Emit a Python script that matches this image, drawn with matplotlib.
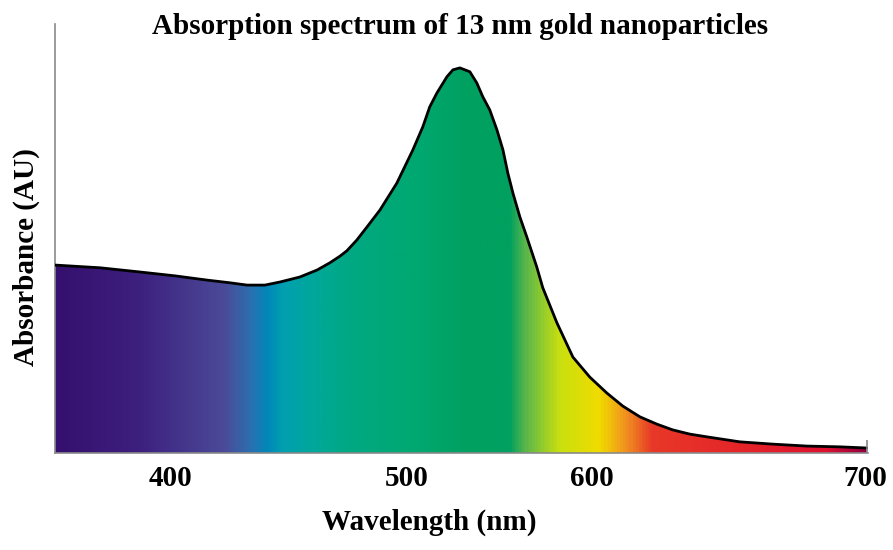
import numpy as np
import matplotlib.pyplot as plt
from matplotlib.colors import LinearSegmentedColormap
from matplotlib.patches import Polygon

# absorption curve (wavelength in nm, absorbance in AU)
wavelength = [350.0, 369.4, 386.7, 401.8, 415.6, 425.5, 432.9, 440.6, 447.1, 455.7,
              463.1, 468.7, 473.0, 476.0, 480.3, 484.7, 490.3, 497.6, 504.5, 508.8,
              511.8, 514.9, 519.2, 521.8, 524.8, 529.1, 532.1, 534.7, 537.7, 540.8,
              543.4, 545.5, 547.7, 550.7, 553.7, 558.0, 560.6, 566.7, 573.6, 580.9,
              588.2, 595.1, 602.5, 609.8, 616.7, 624.1, 631.4, 645.6, 659.9, 674.6,
              688.8, 700.5]
absorbance = [0.488, 0.481, 0.470, 0.460, 0.449, 0.442, 0.436, 0.436, 0.444, 0.457,
              0.475, 0.494, 0.511, 0.525, 0.553, 0.587, 0.631, 0.701, 0.787, 0.847,
              0.899, 0.935, 0.977, 0.995, 1.000, 0.990, 0.961, 0.925, 0.891, 0.839,
              0.787, 0.727, 0.675, 0.613, 0.561, 0.483, 0.429, 0.338, 0.249, 0.197,
              0.156, 0.122, 0.094, 0.075, 0.060, 0.049, 0.042, 0.029, 0.023, 0.018,
              0.016, 0.013]

tick_pos = [400, 502, 582, 700]
tick_labels = ['400', '500', '600', '700']

# spectrum colours along the x axis
spec_stops = [0.0, 0.10, 0.207, 0.240, 0.261, 0.280, 0.322, 0.363, 0.445, 0.507,
              0.560, 0.581, 0.621, 0.670, 0.704, 0.736, 0.827, 0.950, 1.0]
spec_colors = ['#35106e', '#3d1f7e', '#4b4a98', '#2a70b0', '#0088b8', '#00a0b0',
               '#00a898', '#00a882', '#00a870', '#00a060', '#00a060', '#60b848',
               '#c8e010', '#f0dc00', '#f09020', '#e83828', '#e52828', '#e01030',
               '#900040']

serif = ['Liberation Serif', 'DejaVu Serif']

fig = plt.figure(figsize=(8.93, 5.5), dpi=100)
ax = fig.add_axes([55 / 893, 1 - 453 / 550, 813 / 893, 429 / 550])
ax.set_xlim(350, 701)
ax.set_ylim(0, 1.114)

cmap = LinearSegmentedColormap.from_list('spec', list(zip(spec_stops, spec_colors)))
grad = np.linspace(0, 1, 800).reshape(1, -1)
img = ax.imshow(grad, cmap=cmap, aspect='auto', extent=[350, 701, 0, 1.02],
                origin='lower', zorder=1)

verts = [(wavelength[0], 0)] + list(zip(wavelength, absorbance)) + [(wavelength[-1], 0)]
poly = Polygon(verts, closed=True, facecolor='none', edgecolor='none')
ax.add_patch(poly)
img.set_clip_path(poly)

ax.plot(wavelength, absorbance, color='black', lw=2, zorder=3,
        solid_capstyle='round', solid_joinstyle='round')
ax.vlines(wavelength[-1], 0, absorbance[-1] + 0.02, color='#888888', lw=1.2, zorder=3)

for s in ['top', 'right']:
    ax.spines[s].set_visible(False)
ax.spines['left'].set_color('#8a8a8a')
ax.spines['bottom'].set_color('#8a8a8a')
ax.spines['left'].set_linewidth(1.2)
ax.spines['bottom'].set_linewidth(1.2)
ax.spines['bottom'].set_zorder(4)

ax.set_yticks([])
ax.set_xticks(tick_pos)
ax.set_xticklabels(tick_labels, fontfamily=serif, fontweight='bold', fontsize=21)
ax.tick_params(axis='x', length=0, pad=9)

fig.text(460 / 893, 1 - 26 / 550, 'Absorption spectrum of 13 nm gold nanoparticles',
         ha='center', va='center', fontfamily=serif, fontweight='bold', fontsize=21)
fig.text(429 / 893, 1 - 522 / 550, 'Wavelength (nm)', ha='center', va='center',
         fontfamily=serif, fontweight='bold', fontsize=21)
fig.text(26 / 893, 1 - 257 / 550, 'Absorbance (AU)', ha='center', va='center',
         rotation=90, fontfamily=serif, fontweight='bold', fontsize=21)

fig.savefig('out.png', dpi=100)
